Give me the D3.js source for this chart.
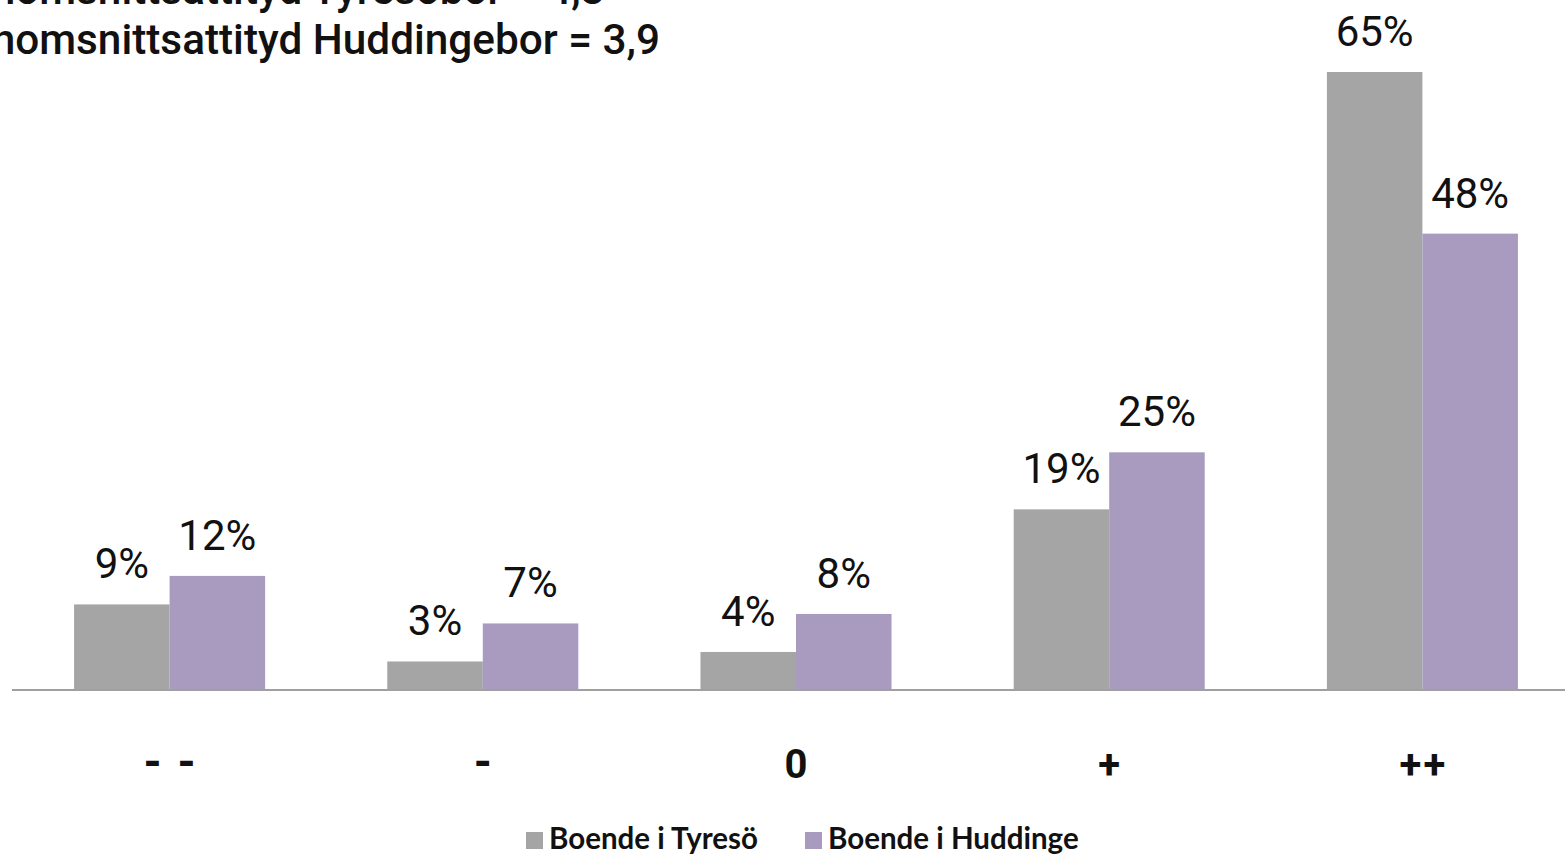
<!DOCTYPE html>
<html>
<head>
<meta charset="utf-8">
<script src="https://cdn.jsdelivr.net/npm/d3@7/dist/d3.min.js"></script>
<style>
  html, body { margin: 0; padding: 0; background: #fff; overflow: hidden; }
  svg { display: block; }
</style>
</head>
<body>
<svg id="chart" width="1565" height="854"></svg>
<script>
const categories = ["--", "-", "0", "+", "++"];
const seriesNames = ["Boende i Tyresö", "Boende i Huddinge"];
const tyreso = [9, 3, 4, 19, 65];
const huddinge = [12, 7, 8, 25, 48];
const titleLines = ["Genomsnittsattityd Tyresöbor = 4,3", "Genomsnittsattityd Huddingebor = 3,9"];
const colors = ["#a5a5a5", "#a89bbf"];

const svg = d3.select("#chart");
const baseY = 690;

const x0 = d3.scaleBand().domain(categories).range([13, 1579]).paddingInner(0.39).paddingOuter(0.195);
const x1 = d3.scaleBand().domain(seriesNames).range([0, x0.bandwidth()]).padding(0);
const y = d3.scaleLinear().domain([0, 65]).range([baseY, 72]);

const rows = categories.map((c, i) => ({ cat: c, values: [tyreso[i], huddinge[i]] }));

const groups = svg.selectAll("g.grp").data(rows).join("g")
  .attr("class", "grp")
  .attr("transform", d => `translate(${x0(d.cat)},0)`);

groups.selectAll("rect").data(d => d.values.map((v, k) => ({ v, k })))
  .join("rect")
  .attr("x", d => x1(seriesNames[d.k]))
  .attr("width", x1.bandwidth())
  .attr("y", d => y(d.v))
  .attr("height", d => baseY - y(d.v))
  .attr("fill", d => colors[d.k]);

groups.selectAll("text.val").data(d => d.values.map((v, k) => ({ v, k })))
  .join("text")
  .attr("class", "val")
  .attr("x", d => x1(seriesNames[d.k]) + x1.bandwidth() / 2)
  .attr("y", d => y(d.v) - 26)
  .attr("text-anchor", "middle")
  .attr("font-family", "Roboto, sans-serif")
  .attr("font-size", 42)
  .attr("fill", "#111")
  .text(d => d.v + "%");

// axis line
svg.append("line")
  .attr("x1", 12).attr("x2", 1579)
  .attr("y1", baseY).attr("y2", baseY)
  .attr("stroke", "#a0a0a0").attr("stroke-width", 2);

// category labels via axis
const xAxis = d3.axisBottom(x0).tickSize(0).tickPadding(0);
const ax = svg.append("g").attr("transform", `translate(0,${baseY})`).call(xAxis);
ax.select(".domain").remove();
const spacing = d => d === "--" ? 16 : (d === "++" ? 2 : 0);
ax.selectAll("text")
  .attr("y", 88)
  .attr("dy", 0)
  .attr("dx", d => spacing(d) / 2)
  .attr("font-family", "Roboto, sans-serif")
  .attr("font-weight", 700)
  .attr("font-size", d => (d === "--" || d === "-") ? 46 : 40)
  .attr("letter-spacing", spacing)
  .attr("fill", "#111");

// title lines
const titleSize = 42.3;
const t2 = svg.append("text")
  .attr("y", 54)
  .attr("font-family", "Roboto, sans-serif")
  .attr("font-weight", 500)
  .attr("font-size", titleSize)
  .attr("fill", "#111")
  .text(titleLines[1]);
const w2 = t2.node().getComputedTextLength();
const tx = 660 - w2;
t2.attr("x", tx);
svg.append("text")
  .attr("x", tx)
  .attr("y", 4)
  .attr("font-family", "Roboto, sans-serif")
  .attr("font-weight", 500)
  .attr("font-size", titleSize)
  .attr("fill", "#111")
  .text(titleLines[0]);

// legend
const legendX = [526, 805];
const lg = svg.selectAll("g.leg").data(seriesNames).join("g")
  .attr("class", "leg")
  .attr("transform", (d, i) => `translate(${legendX[i]},832)`);
lg.append("rect").attr("width", 17).attr("height", 17).attr("fill", (d, i) => colors[i]);
lg.append("text")
  .attr("x", 23).attr("y", 17)
  .attr("font-family", "Lato, sans-serif")
  .attr("font-weight", 700)
  .attr("font-size", 29.5)
  .attr("fill", "#111")
  .text(d => d);
</script>
</body>
</html>
